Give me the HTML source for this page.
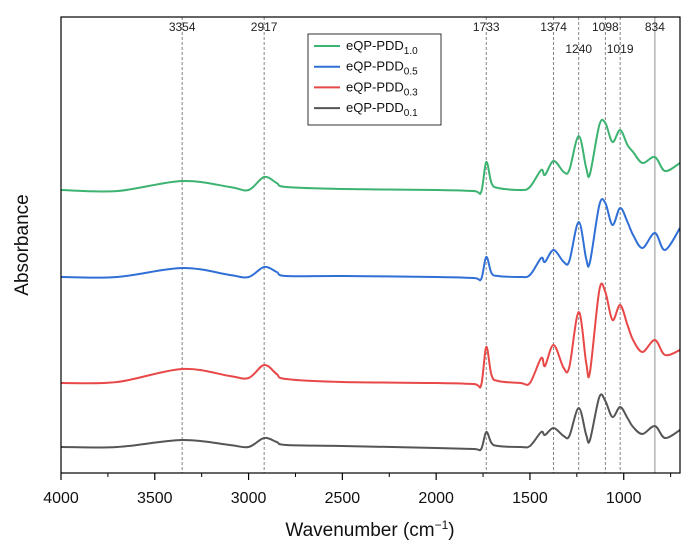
<!DOCTYPE html>
<html><head><meta charset="utf-8"><style>
body{margin:0;background:#fff;}
svg{display:block;font-family:"Liberation Sans",Arial,sans-serif;}
</style></head><body>
<svg id="chart" width="696" height="558" viewBox="0 0 696 558">
<g id="plot"></g>
</svg>
<script>
// Data (absorbance in arbitrary offset units)
const wavenumbers = [4000,3700,3354,3100,3000,2917,2850,2800,2500,2000,1800,1760,1733,1705,1670,1550,1500,1440,1420,1374,1320,1290,1240,1200,1180,1130,1098,1060,1019,980,950,900,834,780,700];
const seriesNames = ["eQP-PDD1.0","eQP-PDD0.5","eQP-PDD0.3","eQP-PDD0.1"];
const seriesColors = ["#3cb371","#2f6fd6","#e84848","#555555"];
const s10 = [283,282,292,286,283,296,290,286,284,283,282,281,311,290,285,283,286,303,298,312,301,303,337,305,299,348,350,331,343,328,321,310,316,302,310];
const s05 = [196,196,205,198,196,206,201,197,197,196,195,194,216,200,197,196,198,215,211,223,211,212,251,214,211,268,270,248,265,251,238,225,240,223,245];
const s03 = [90,91,104,97,95,108,99,94,91,90,89,88,126,98,92,90,90,115,107,128,105,106,161,110,101,183,181,153,168,148,133,121,133,118,123];
const s01 = [26,26,33,28,26,35,31,28,27,25,24,24,41,30,27,26,27,41,38,45,37,37,65,38,33,76,72,56,66,55,46,39,47,35,43];
const seriesValues = [s10,s05,s03,s01];
const refPeaks = [3354,2917,1733,1374,1240,1098,1019,834];
const refLow = [1240,1019];
const xTicks = [4000,3500,3000,2500,2000,1500,1000];
const xMinor = [3750,3250,2750,2250,1750,1250,750];

const L=61,R=680,T=17,B=473;
const xs = w => L + (4000 - w) * (R - L) / 3300;
const ys = v => B - v;
const NS="http://www.w3.org/2000/svg";
const g=document.getElementById('plot');
function mk(tag,attrs,parent){const e=document.createElementNS(NS,tag);for(const k in attrs)e.setAttribute(k,attrs[k]);(parent||g).appendChild(e);return e;}

// reference lines
refPeaks.forEach(p=>{
  const ln=mk('line',{x1:xs(p),x2:xs(p),y1:T,y2:B,stroke:p===834?'#aaa':'#777','stroke-width':p===834?1.3:0.9,'stroke-dasharray':p===834?'':'3,2'});
  
  
  const t=mk('text',{x:xs(p),y:refLow.includes(p)?53:31,'text-anchor':'middle','font-size':12,fill:'#222'});
  t.textContent=p;
  
  
});

// series (smooth catmull-rom)
function pathFor(vals){
  const pts=wavenumbers.map((w,i)=>[xs(w),ys(vals[i])]);
  let d='M'+pts[0][0]+','+pts[0][1];
  for(let i=0;i<pts.length-1;i++){
    const p0=pts[i-1]||pts[i],p1=pts[i],p2=pts[i+1],p3=pts[i+2]||p2;
    const c1=[p1[0]+(p2[0]-p0[0])/6,p1[1]+(p2[1]-p0[1])/6];
    const c2=[p2[0]-(p3[0]-p1[0])/6,p2[1]-(p3[1]-p1[1])/6];
    d+=` C${c1[0]},${c1[1]} ${c2[0]},${c2[1]} ${p2[0]},${p2[1]}`;
  }
  return d;
}
seriesValues.forEach((vals,i)=>{
  const p=mk('path',{d:pathFor(vals),fill:'none',stroke:seriesColors[i],'stroke-width':2});
  
  
});

// frame
const fr=mk('rect',{x:L,y:T,width:R-L,height:B-T,fill:'none',stroke:'#000','stroke-width':1.2});



// ticks
xTicks.forEach(v=>{
  const tk=mk('line',{x1:xs(v),x2:xs(v),y1:B,y2:B+7,stroke:'#000','stroke-width':1.2});
  
  
  const t=mk('text',{x:xs(v),y:503,'text-anchor':'middle','font-size':16,fill:'#111'});
  t.textContent=v;
  
  
});
xMinor.forEach(v=>{
  const tk=mk('line',{x1:xs(v),x2:xs(v),y1:B,y2:B+4,stroke:'#000','stroke-width':1});
  
  
});

// axis titles
const xt=mk('text',{x:370,y:536,'text-anchor':'middle','font-size':19,fill:'#111'});
xt.innerHTML='Wavenumber (cm<tspan dy="-7" font-size="12">−1</tspan><tspan dy="7">)</tspan>';


const yt=mk('text',{x:0,y:0,'text-anchor':'middle','font-size':19,fill:'#111',transform:'translate(28,245) rotate(-90)'});
yt.textContent='Absorbance';



// legend
const lg=mk('g',{});


mk('rect',{x:308,y:34,width:133,height:91,fill:'#fff',stroke:'#000','stroke-width':0.8},lg);
seriesNames.forEach((n,i)=>{
  const y=46+i*20.7;
  const e=mk('g',{},lg);
  
  
  mk('line',{x1:314,x2:340,y1:y,y2:y,stroke:seriesColors[i],'stroke-width':2},e);
  const t=mk('text',{x:346,y:y+4,'font-size':13,fill:'#111'},e);
  const base=n.slice(0,7),sub=n.slice(7);
  t.innerHTML=base+'<tspan dy="4" font-size="10">'+sub+'</tspan>';
});
</script>
</body></html>
